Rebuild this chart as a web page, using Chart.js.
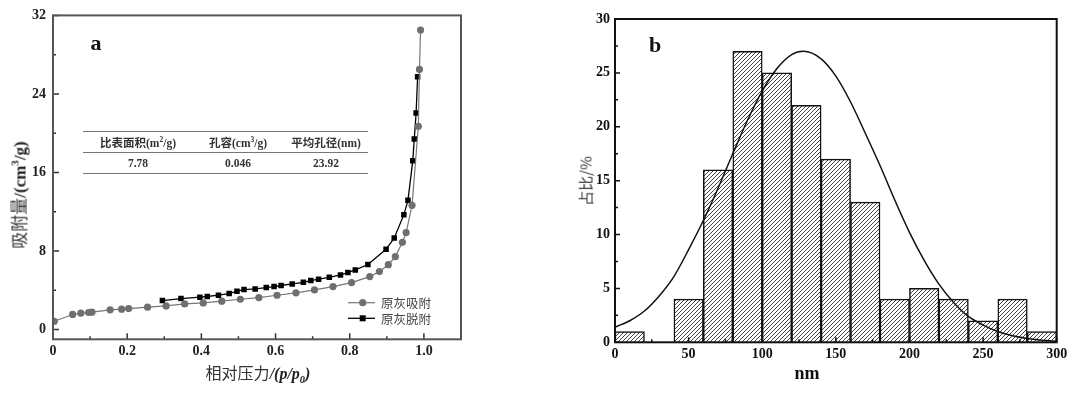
<!DOCTYPE html>
<html><head><meta charset="utf-8">
<script src="https://cdn.jsdelivr.net/npm/chart.js@4.4.1/dist/chart.umd.min.js"></script>
<style>
html,body{margin:0;padding:0;background:#fff;width:1080px;height:393px;overflow:hidden;}
body{position:relative;}
.abs{position:absolute;white-space:nowrap;}
.c{transform:translate(-50%,-50%);}
.serif{font-family:"Liberation Serif","DejaVu Serif",serif;font-weight:bold;}
.cjk{font-family:"Noto Sans CJK SC",sans-serif;font-weight:normal;}
canvas{position:absolute;top:0;}
.hl{position:absolute;height:0;border-top:1.5px solid #777;left:83px;width:285px;}
sup,sub{font-size:65%;line-height:0;}
</style></head>
<body>
<canvas id="c1" width="480" height="393" style="left:0"></canvas>
<canvas id="c2" width="520" height="393" style="left:560px"></canvas>

<div class="abs c serif" style="left:96px;top:43px;font-size:22px;color:#111">a</div>
<div class="abs c serif" style="left:655px;top:45px;font-size:22px;color:#111">b</div>

<!-- left y title -->
<div class="abs c" style="left:18px;top:195px;transform:translate(-50%,-50%) rotate(-90deg);font-size:17px;color:#333">
<span class="cjk">吸附量</span><span class="serif" style="color:#222">/(cm<sup>3</sup>/g)</span></div>
<!-- left x title -->
<div class="abs c" style="left:258px;top:372px;font-size:16px;color:#333">
<span class="cjk">相对压力</span><span class="serif" style="font-style:italic;color:#222">/(p/p<sub>0</sub>)</span></div>
<!-- right titles -->
<div class="abs c cjk" style="left:585px;top:181px;transform:translate(-50%,-50%) rotate(-90deg);font-size:15px;color:#333">占比/%</div>
<div class="abs c serif" style="left:807px;top:373px;font-size:18px;color:#111">nm</div>

<!-- table -->
<div class="hl" style="top:131px"></div>
<div class="hl" style="top:152px"></div>
<div class="hl" style="top:173px"></div>
<div id="tbl"></div>

<!-- legend -->
<svg class="abs" style="left:345px;top:294px" width="36" height="32">
<line x1="3" y1="8.7" x2="30" y2="8.7" stroke="#777" stroke-width="1.2"/>
<circle cx="17.7" cy="8.7" r="3.6" fill="#6f6f6f"/>
<line x1="3" y1="24.3" x2="30" y2="24.3" stroke="#000" stroke-width="1.3"/>
<rect x="14.7" y="21.3" width="6" height="6" fill="#000"/>
</svg>
<div class="abs cjk" style="left:381px;top:294px;font-size:12.5px;line-height:17px;color:#444">原灰吸附</div>
<div class="abs cjk" style="left:381px;top:310px;font-size:12.5px;line-height:17px;color:#444">原灰脱附</div>

<script>
// ---------- data: chart a (N2 isotherm) ----------
const adsX = [0.0035,0.053,0.075,0.096,0.105,0.154,0.185,0.204,0.255,0.305,0.355,0.405,0.455,0.505,0.555,0.604,0.655,0.705,0.755,0.805,0.854,0.880,0.904,0.923,0.942,0.952,0.968,0.985,0.988,0.991];
const adsY = [0.84,1.53,1.66,1.73,1.76,2.00,2.07,2.13,2.27,2.40,2.60,2.71,2.88,3.08,3.25,3.49,3.73,4.03,4.37,4.78,5.39,5.90,6.60,7.43,8.89,9.87,12.65,20.7,26.5,30.5];
const desX = [0.983,0.979,0.974,0.970,0.957,0.946,0.920,0.898,0.849,0.815,0.795,0.775,0.745,0.716,0.695,0.675,0.645,0.615,0.596,0.575,0.545,0.515,0.496,0.475,0.446,0.416,0.396,0.345,0.295];
const desY = [25.75,22.05,19.4,17.2,13.16,11.7,9.33,8.17,6.62,6.07,5.80,5.56,5.32,5.12,4.98,4.81,4.64,4.48,4.37,4.27,4.13,4.07,3.90,3.66,3.49,3.36,3.29,3.15,2.95];
const seriesNames = ['原灰吸附','原灰脱附'];
const aXTicks = [0,0.1,0.2,0.3,0.4,0.5,0.6,0.7,0.8,0.9,1.0,1.1];
const aXLabels = ['0','','0.2','','0.4','','0.6','','0.8','','1.0',''];
const aYTicks = [0,4,8,12,16,20,24,28,32];
const aYLabels = ['0','','8','','16','','24','','32'];
const tableHead = ['比表面积(m<sup>2</sup>/g)','孔容(cm<sup>3</sup>/g)','平均孔径(nm)'];
const tableVals = ['7.78','0.046','23.92'];

// ---------- data: chart b (size distribution) ----------
const binCenters = [10,30,50,70,90,110,130,150,170,190,210,230,250,270,290];
const binValues  = [1,0,4,16,27,25,22,17,13,4,5,4,2,4,1];
const curveX = [0,10,20,30,40,50,60,70,80,90,100,110,120,128,140,150,160,170,180,190,200,210,220,230,240,250,260,270,280,290,300];
const curveY = [1.4,2.0,2.9,4.3,6.1,8.6,11.3,14.3,17.5,20.6,23.3,25.4,26.7,27.0,26.3,24.7,22.3,19.4,16.4,13.2,10.2,7.6,5.4,3.7,2.4,1.6,1.0,0.6,0.35,0.2,0.1];
const bXTicks = [0,25,50,75,100,125,150,175,200,225,250,275,300];
const bXLabels = ['0','','50','','100','','150','','200','','250','','300'];
const bYTicks = [0,2.5,5,7.5,10,12.5,15,17.5,20,22.5,25,27.5,30];
const bYLabels = ['0','','5','','10','','15','','20','','25','','30'];

// table text
const tcx = [138,238,326];
let th = '';
tableHead.forEach((h,i)=>{ th += `<div class="abs c" style="left:${tcx[i]}px;top:142px;font-size:11.5px;color:#333"><span style="font-family:'Liberation Serif','Noto Sans CJK SC',serif;font-weight:bold">${h.replace(/([\u4e00-\u9fff]+)/g,'<span class="cjk" style="font-weight:bold">$1</span>')}</span></div>`; });
tableVals.forEach((v,i)=>{ th += `<div class="abs c serif" style="left:${tcx[i]}px;top:163px;font-size:11.5px;color:#333">${v}</div>`; });
document.getElementById('tbl').innerHTML = th;

const serifFont = {family:'"Liberation Serif","DejaVu Serif",serif', weight:'bold', size:14};

function frame(color, lw, majL, minL, tickColor){
  return {
    id:'frame',
    afterDatasetsDraw(chart){
      const {ctx, chartArea:a, scales:{x,y}} = chart;
      ctx.save();
      ctx.strokeStyle = tickColor; ctx.lineWidth = 1.5;
      ctx.beginPath();
      x.ticks.forEach(t=>{ const p = x.getPixelForValue(t.value); const L = t.label!=='' ? majL : minL; ctx.moveTo(p,a.bottom); ctx.lineTo(p,a.bottom-L); });
      y.ticks.forEach(t=>{ const p = y.getPixelForValue(t.value); const L = t.label!=='' ? majL : minL; ctx.moveTo(a.left,p); ctx.lineTo(a.left+L,p); });
      ctx.stroke();
      ctx.strokeStyle = color; ctx.lineWidth = lw;
      ctx.strokeRect(a.left, a.top, a.right-a.left, a.bottom-a.top);
      ctx.restore();
    }
  };
}

function axis(min,max,vals,labels,isX,fitSize,pad,color){
  return {
    type:'linear', min, max, offset:false,
    grid:{display:false, drawTicks:false, offset:false}, border:{display:false},
    afterBuildTicks(s){ s.ticks = vals.map(v=>({value:v})); },
    afterFit(s){ if(isX) s.height = fitSize; else s.width = fitSize; },
    ticks:{ autoSkip:false, maxRotation:0, padding:pad, color, font:serifFont,
            callback:(v,i)=>labels[i] }
  };
}

// ---------- chart a ----------
new Chart(document.getElementById('c1'), {
  type:'scatter',
  data:{ datasets:[
    { label:seriesNames[0], data:adsX.map((x,i)=>({x, y:adsY[i]})), showLine:true,
      borderColor:'#777', borderWidth:1.2, backgroundColor:'#6f6f6f', pointBorderColor:'#6f6f6f',
      pointStyle:'circle', pointRadius:3.6, pointBorderWidth:0 },
    { label:seriesNames[1], data:desX.map((x,i)=>({x, y:desY[i]})), showLine:true,
      borderColor:'#000', borderWidth:1.3, backgroundColor:'#000', pointBorderColor:'#000',
      pointStyle:'rect', pointRadius:3.9, pointBorderWidth:0 }
  ]},
  options:{
    responsive:false, animation:false, devicePixelRatio:1,
    layout:{padding:{left:0, top:15, right:19, bottom:0}},
    plugins:{legend:{display:false}, tooltip:{enabled:false}},
    scales:{
      x: axis(0,1.1,aXTicks,aXLabels,true,53.7,4,'#222'),
      y: axis(-1,32,aYTicks,aYLabels,false,53,7,'#222')
    }
  },
  plugins:[frame('#555',2,6,3,'#333')]
});

// ---------- chart b ----------
const T = 4;
const pc = document.createElement('canvas'); pc.width = T; pc.height = T;
const pctx = pc.getContext('2d');
pctx.fillStyle = '#fff'; pctx.fillRect(0,0,T,T);
pctx.strokeStyle = '#444'; pctx.lineWidth = 1;
pctx.beginPath();
pctx.moveTo(0,T); pctx.lineTo(T,0);
pctx.moveTo(-1,1); pctx.lineTo(1,-1);
pctx.moveTo(T-1,T+1); pctx.lineTo(T+1,T-1);
pctx.stroke();
const hatch = pctx.createPattern(pc,'repeat');

new Chart(document.getElementById('c2'), {
  type:'bar',
  data:{ datasets:[
    { type:'line', label:'fit', data:curveX.map((x,i)=>({x, y:curveY[i]})),
      borderColor:'#111', borderWidth:1.5, pointRadius:0, fill:false,
      cubicInterpolationMode:'monotone', order:0 },
    { type:'bar', label:'占比', data:binCenters.map((x,i)=>({x, y:binValues[i]})),
      backgroundColor:hatch, borderColor:'#111', borderWidth:1.5,
      barPercentage:1, categoryPercentage:1, order:1 }
  ]},
  options:{
    responsive:false, animation:false, devicePixelRatio:1,
    layout:{padding:{left:0, top:19, right:23.3, bottom:0}},
    plugins:{legend:{display:false}, tooltip:{enabled:false}},
    scales:{
      x: axis(0,300,bXTicks,bXLabels,true,50.7,4,'#111'),
      y: axis(0,30,bYTicks,bYLabels,false,55,5,'#111')
    }
  },
  plugins:[frame('#111',2,5,3,'#111')]
});
</script>
</body></html>
